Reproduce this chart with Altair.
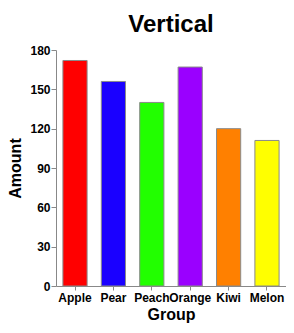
import altair as alt
import pandas as pd

groups = ["Apple", "Pear", "Peach", "Orange", "Kiwi", "Melon"]
amounts = [172, 156, 140, 167, 120, 111]
colors = ["#FF0000", "#1A00FF", "#22FF00", "#9A00FF", "#FF8000", "#FFFF00"]
y_ticks = [0, 30, 60, 90, 120, 150, 180]

df = pd.DataFrame({"Group": groups, "Amount": amounts})

FONT = "Liberation Sans"

chart = alt.Chart(df).mark_bar(stroke="#8a8a8a", strokeWidth=1).encode(
    x=alt.X("Group:N", sort=groups,
            scale=alt.Scale(paddingInner=0.37, paddingOuter=0.18),
            axis=alt.Axis(title="Group", labelAngle=0, labelFont=FONT, labelFontWeight="bold",
                          labelFontSize=12, labelColor="black", titleFont=FONT,
                          titleFontWeight="bold", titleFontSize=16, titleColor="black",
                          domainColor="#888888", tickColor="#888888", tickSize=4,
                          labelPadding=2, titlePadding=3)),
    y=alt.Y("Amount:Q", scale=alt.Scale(domain=[0, 180], nice=False),
            axis=alt.Axis(title="Amount", values=y_ticks, grid=False, labelFont=FONT,
                          labelFontWeight="bold", labelFontSize=12, labelColor="black",
                          titleFont=FONT, titleFontWeight="bold", titleFontSize=16,
                          titleColor="black", domainColor="#888888", tickColor="#888888",
                          tickSize=5, labelPadding=1, titlePadding=6)),
    color=alt.Color("Group:N", sort=groups, scale=alt.Scale(domain=groups, range=colors), legend=None),
).properties(
    width=230, height=236,
    title=alt.TitleParams("Vertical", font=FONT, fontSize=24, fontWeight="bold",
                          color="black", anchor="middle", offset=7),
    autosize=alt.AutoSizeParams(type="none"),
    padding={"left": 48, "top": 42, "right": 0, "bottom": 39},
).configure_view(stroke=None)

chart.save("out.html", embed_options={"renderer": "svg", "actions": False})
